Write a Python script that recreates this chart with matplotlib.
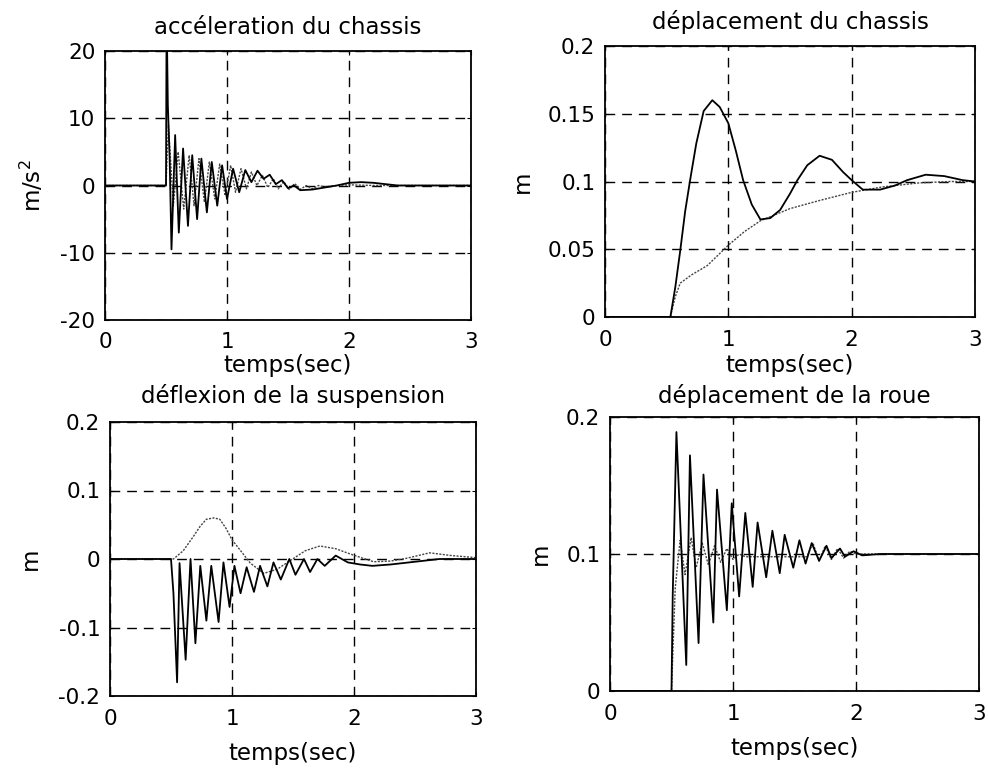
import matplotlib
matplotlib.use("Agg")
import matplotlib.pyplot as plt
from matplotlib.ticker import FormatStrFormatter

plt.rcParams['font.family'] = ['DejaVu Sans']
plt.rcParams['axes.unicode_minus'] = False

# --- accéleration du chassis (m/s^2)
t_acc_1 = [0, 0.5, 0.505, 0.515, 0.53, 0.545, 0.575, 0.605, 0.64, 0.68, 0.715, 0.755, 0.79, 0.835,
           0.875, 0.92, 0.96, 1.0, 1.05, 1.1, 1.15, 1.2, 1.25, 1.3, 1.35, 1.4, 1.45, 1.5, 1.55, 1.6,
           1.7, 1.8, 1.9, 2.0, 2.1, 2.2, 2.3, 2.4, 2.6, 3.0]
acc_1 = [0, 0, 26, 12, 4, -9.5, 7.5, -7, 5.5, -6, 4.5, -5, 4, -4,
         3.5, -3, 3, -2, 2.5, -1, 2.3, 0.5, 2.2, 1.0, 1.6, 0.2, 0.8, -0.4, 0, -0.7,
         -0.6, -0.3, 0, 0.4, 0.5, 0.4, 0.2, 0, 0, 0]
t_acc_2 = [0, 0.5, 0.52, 0.56, 0.6, 0.645, 0.69, 0.73, 0.77, 0.815, 0.855, 0.9, 0.94, 0.985,
           1.03, 1.07, 1.115, 1.16, 1.2, 1.245, 1.29, 1.335, 1.38, 1.42, 1.465, 1.51, 1.555, 1.6,
           1.65, 1.7, 1.75, 1.8, 1.9, 2.0, 2.2, 3.0]
acc_2 = [0, 0, 9, -3, 5, -3.5, 4.5, -3, 4, -2.5, 3.5, -2, 3.2, -1.5,
         3, -1, 2.5, -0.5, 2, 0, 1.5, -0.3, 1, -0.5, 0.6, -0.6, 0.3, -0.6,
         0, -0.5, 0, -0.2, 0, 0.1, 0, 0]

# --- déplacement du chassis (m)
t_dch_1 = [0, 0.53, 0.57, 0.61, 0.65, 0.69, 0.74, 0.8, 0.87, 0.93, 1.0, 1.06, 1.12, 1.19, 1.26,
           1.34, 1.42, 1.5, 1.56, 1.64, 1.74, 1.84, 1.93, 2.0, 2.09, 2.23, 2.35, 2.45, 2.6, 2.75,
           2.9, 3.0]
dch_1 = [0, 0, 0.022, 0.049, 0.078, 0.101, 0.128, 0.152, 0.160, 0.155, 0.143, 0.123, 0.101, 0.083,
         0.072, 0.073, 0.079, 0.091, 0.101, 0.112, 0.119, 0.116, 0.107, 0.101, 0.094, 0.094, 0.097,
         0.101, 0.105, 0.104, 0.101, 0.1]
t_dch_2 = [0, 0.53, 0.57, 0.61, 0.7, 0.83, 1.0, 1.13, 1.26, 1.5, 1.74, 2.0, 2.25, 2.55, 2.8, 3.0]
dch_2 = [0, 0, 0.015, 0.025, 0.031, 0.038, 0.053, 0.063, 0.071, 0.08, 0.086, 0.092, 0.096, 0.099,
         0.1, 0.1]

# --- déflexion de la suspension (m)
t_def_1 = [0, 0.5, 0.52, 0.55, 0.57, 0.62, 0.66, 0.7, 0.74, 0.79, 0.83, 0.89, 0.93, 0.98, 1.02,
           1.07, 1.12, 1.18, 1.23, 1.29, 1.34, 1.4, 1.47, 1.52, 1.59, 1.64, 1.7, 1.76, 1.85, 1.95,
           2.05, 2.15, 2.3, 2.5, 2.7, 3.0]
def_1 = [0, 0, -0.05, -0.18, -0.006, -0.147, 0.0, -0.123, -0.01, -0.09, -0.01, -0.092, -0.005,
         -0.07, -0.01, -0.05, -0.012, -0.048, -0.01, -0.04, -0.005, -0.03, 0.0, -0.023, 0.0, -0.019,
         0.0, -0.01, 0.005, -0.005, -0.008, -0.01, -0.008, -0.004, 0.0, 0.0]
t_def_2 = [0, 0.52, 0.6, 0.68, 0.74, 0.79, 0.85, 0.9, 0.95, 1.0, 1.08, 1.15, 1.26, 1.37, 1.48, 1.6,
           1.72, 1.85, 1.99, 2.16, 2.3, 2.43, 2.62, 2.8, 3.0]
def_2 = [0, 0, 0.012, 0.032, 0.048, 0.058, 0.06, 0.058, 0.045, 0.028, 0.01, -0.006, -0.021, -0.015,
         -0.002, 0.012, 0.019, 0.015, 0.006, -0.004, -0.003, 0.001, 0.009, 0.005, 0.002]

# --- déplacement de la roue (m)
t_rou_1 = [0, 0.5, 0.51, 0.54, 0.62, 0.65, 0.72, 0.76, 0.84, 0.87, 0.95, 0.99, 1.05, 1.1, 1.16, 1.2,
           1.27, 1.32, 1.38, 1.42, 1.49, 1.54, 1.59, 1.64, 1.7, 1.76, 1.8, 1.87, 1.91, 1.98, 2.05,
           2.2, 2.5, 3.0]
rou_1 = [0, 0, 0.07, 0.189, 0.019, 0.172, 0.035, 0.158, 0.05, 0.147, 0.059, 0.137, 0.069, 0.13,
         0.076, 0.123, 0.083, 0.117, 0.086, 0.114, 0.09, 0.11, 0.093, 0.108, 0.095, 0.106, 0.097,
         0.104, 0.098, 0.102, 0.099, 0.1, 0.1, 0.1]
t_rou_2 = [0, 0.5, 0.53, 0.57, 0.61, 0.66, 0.7, 0.75, 0.8, 0.85, 0.9, 0.95, 1.0, 1.05, 1.1, 1.6,
           1.65, 1.7, 1.75, 1.8, 1.85, 1.9, 1.95, 2.0, 2.3, 3.0]
rou_2 = [0, 0, 0.075, 0.11, 0.085, 0.112, 0.09, 0.108, 0.092, 0.106, 0.094, 0.104, 0.096, 0.1,
         0.098, 0.098, 0.108, 0.095, 0.106, 0.096, 0.104, 0.097, 0.102, 0.1, 0.1, 0.1]

fig = plt.figure(figsize=(9.88, 7.69), dpi=100, facecolor='white')
W, H = 988.0, 769.0


def box(x0, y0, x1, y1):
    # pixel box (top-left origin) -> figure fraction
    return [x0 / W, 1 - y1 / H, (x1 - x0) / W, (y1 - y0) / H]


def style(ax, ylim, yticks, title, ylabel, tpad, xtpad, xpad, ypad):
    ax.set_xlim(0, 3)
    ax.set_ylim(*ylim)
    ax.set_xticks([0, 1, 2, 3])
    ax.set_yticks(yticks)
    ax.yaxis.set_major_formatter(FormatStrFormatter('%g'))
    ax.tick_params(direction='in', length=3, width=0.8, labelsize=15.5,
                   top=True, right=True)
    ax.tick_params(axis='x', pad=xtpad)
    ax.tick_params(axis='y', pad=7)
    ax.grid(True, color='black', linewidth=1.0, linestyle=(0, (7, 5)))
    for s in ax.spines.values():
        s.set_linewidth(1.3)
    ax.set_title(title, fontsize=16.5, pad=tpad)
    ax.set_xlabel('temps(sec)', fontsize=16.5, labelpad=xpad)
    ax.set_ylabel(ylabel, fontsize=16.5, labelpad=ypad)


dark = dict(color='black', linewidth=1.3)
light = dict(color='#444444', linewidth=1.0, linestyle=(0, (1.5, 1)))

ax1 = fig.add_axes(box(105, 51, 471, 320))
ax1.plot(t_acc_2, acc_2, **light)
ax1.plot(t_acc_1, acc_1, **dark)
style(ax1, (-20, 20), [-20, -10, 0, 10, 20], 'accéleration du chassis', 'm/s$^2$',
      12, 9, 1, 10)

ax2 = fig.add_axes(box(605, 46, 975, 317))
ax2.plot(t_dch_2, dch_2, **light)
ax2.plot(t_dch_1, dch_1, **dark)
style(ax2, (0, 0.2), [0, 0.05, 0.1, 0.15, 0.2], 'déplacement du chassis', 'm',
      12, 9, 3, 10)

ax3 = fig.add_axes(box(110, 422, 476, 696))
ax3.plot(t_def_2, def_2, **light)
ax3.plot(t_def_1, def_1, **dark)
style(ax3, (-0.2, 0.2), [-0.2, -0.1, 0, 0.1, 0.2], 'déflexion de la suspension', 'm',
      14, 9.5, 9, 12)

ax4 = fig.add_axes(box(610, 417, 979, 691))
ax4.plot(t_rou_2, rou_2, **light)
ax4.plot(t_rou_1, rou_1, **dark)
style(ax4, (0, 0.2), [0, 0.1, 0.2], 'déplacement de la roue', 'm',
      10, 9.5, 9, 10)

fig.savefig('out.png', dpi=100, facecolor='white')
